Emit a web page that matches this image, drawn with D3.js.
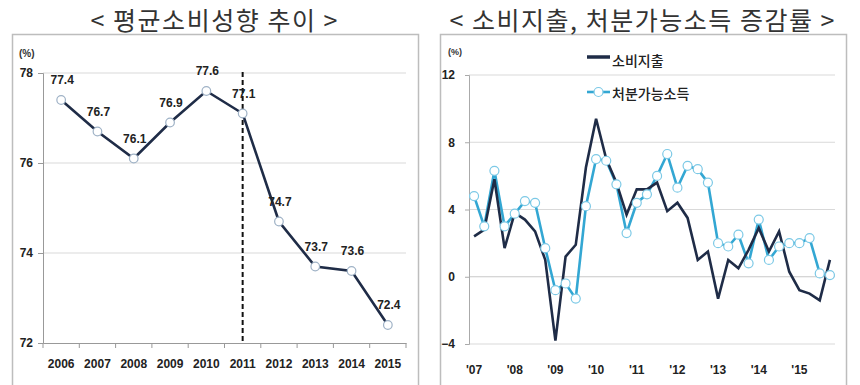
<!DOCTYPE html>
<html><head><meta charset="utf-8">
<script src="https://cdn.jsdelivr.net/npm/d3@7"></script>
<style>
html,body{margin:0;padding:0;background:#fff;}
svg{display:block;}
.kr{font-family:"Noto Sans CJK KR","Noto Sans",sans-serif;}
.num{font-family:"Liberation Sans",Arial,sans-serif;font-weight:bold;}
</style></head>
<body><svg id="c" width="860" height="385"></svg>
<script>
// ---- Left chart data ----
const leftTitle = "< 평균소비성향 추이 >";
const years = ["2006","2007","2008","2009","2010","2011","2012","2013","2014","2015"];
const propensity = [77.4, 76.7, 76.1, 76.9, 77.6, 77.1, 74.7, 73.7, 73.6, 72.4];
const leftTicks = [72, 74, 76, 78];
const markerYear = "2011";

// ---- Right chart data ----
const rightTitle = "< 소비지출, 처분가능소득 증감률 >";
const qYears = ["07","08","09","10","11","12","13","14","15"];
const quarters = ["1","2","3","4"];
const spending = [2.4, 2.8, 5.8, 1.7, 3.8, 3.4, 2.7, 1.0, -3.8, 1.2, 1.9, 6.5,
                  9.4, 7.0, 5.6, 3.7, 5.2, 5.2, 5.6, 3.9, 4.4, 3.5, 1.0, 1.5,
                  -1.3, 1.0, 0.5, 1.6, 2.9, 1.5, 2.7, 0.3, -0.8, -1.0, -1.4, 1.0];
const income = [4.8, 3.0, 6.3, 3.0, 3.75, 4.5, 4.4, 1.7, -0.8, -0.4, -1.3, 4.2,
                7.0, 6.9, 5.5, 2.6, 4.4, 4.9, 6.0, 7.3, 5.3, 6.6, 6.4, 5.6,
                2.0, 1.8, 2.5, 0.8, 3.4, 1.0, 1.8, 2.0, 2.0, 2.3, 0.2, 0.1];
const rightTicks = [-4, 0, 4, 8, 12];
const seriesNames = ["소비지출", "처분가능소득"];

const navy = "#1f2c47", cyan = "#33a7d3", grid = "#d9d9d9";
const svg = d3.select("#c");

// ================= LEFT =================
svg.append("rect").attr("x",12.5).attr("y",34.5).attr("width",406).attr("height",360)
  .attr("fill","none").attr("stroke","#bdbdbd").attr("stroke-width",1.5);
svg.append("text").attr("class","kr").attr("x",214).attr("y",19)
  .attr("text-anchor","middle").attr("dominant-baseline","central")
  .attr("font-size",25).attr("fill","#333").attr("textLength",247)
  .attr("lengthAdjust","spacing").text(leftTitle);

const xL = d3.scaleBand().domain(years).range([43,406]);
const yL = d3.scaleLinear().domain([72,78]).range([343,73]);
const cx = d => xL(d) + xL.bandwidth()/2;

const gL = svg.append("g");
gL.selectAll("line.grid").data(leftTicks.filter(t=>t>72)).join("line")
  .attr("x1",43).attr("x2",406).attr("y1",d=>yL(d)).attr("y2",d=>yL(d))
  .attr("stroke",grid).attr("stroke-width",1);

const axYL = gL.append("g").attr("transform","translate(43,0)")
  .call(d3.axisLeft(yL).tickValues(leftTicks).tickSize(5).tickPadding(5).tickFormat(d3.format("d")));
axYL.select(".domain").attr("stroke","#999");
axYL.selectAll(".tick line").attr("stroke","#999");
axYL.selectAll("text").attr("class","num").attr("font-size",12).attr("fill","#222");

const axXL = gL.append("g").attr("transform","translate(0,343)")
  .call(d3.axisBottom(xL).tickSize(0).tickPadding(16));
axXL.select(".domain").attr("stroke","#999");
axXL.selectAll("text").attr("class","num").attr("font-size",12).attr("fill","#222");
gL.selectAll("line.bt").data(years.concat(["end"])).join("line")
  .attr("x1",(d,i)=> i<years.length ? xL(d) : xL.range()[1])
  .attr("x2",(d,i)=> i<years.length ? xL(d) : xL.range()[1])
  .attr("y1",343).attr("y2",348).attr("stroke","#999");

svg.append("text").attr("class","num").attr("x",19).attr("y",53)
  .attr("dominant-baseline","central").attr("font-size",10).attr("font-weight","normal")
  .attr("fill","#333").text("(%)");

gL.append("line").attr("x1",cx(markerYear)).attr("x2",cx(markerYear))
  .attr("y1",yL(78)-1).attr("y2",343).attr("stroke","#111").attr("stroke-width",2)
  .attr("stroke-dasharray","5,3");

const lineL = d3.line().x((d,i)=>cx(years[i])).y(d=>yL(d));
gL.append("path").datum(propensity).attr("d",lineL).attr("fill","none")
  .attr("stroke",navy).attr("stroke-width",2.6);
gL.selectAll("circle").data(propensity).join("circle")
  .attr("cx",(d,i)=>cx(years[i])).attr("cy",d=>yL(d)).attr("r",4.3)
  .attr("fill","#fff").attr("stroke","#9fb2c6").attr("stroke-width",1.2);
gL.selectAll("text.lbl").data(propensity).join("text").attr("class","num lbl")
  .attr("x",(d,i)=>cx(years[i])+1).attr("y",d=>yL(d)-20)
  .attr("text-anchor","middle").attr("dominant-baseline","central")
  .attr("font-size",12).attr("fill","#222").text(d=>d3.format(".1f")(d));

// ================= RIGHT =================
svg.append("rect").attr("x",440.5).attr("y",34.5).attr("width",406).attr("height",360)
  .attr("fill","none").attr("stroke","#bdbdbd").attr("stroke-width",1.5);
svg.append("text").attr("class","kr").attr("x",642).attr("y",19)
  .attr("text-anchor","middle").attr("dominant-baseline","central")
  .attr("font-size",25).attr("fill","#333").attr("textLength",385)
  .attr("lengthAdjust","spacing").text(rightTitle);

const qCats = [];
qYears.forEach(y => quarters.forEach(q => qCats.push(y + "Q" + q)));
const xR = d3.scaleBand().domain(qCats).range([469,835]);
const yR = d3.scaleLinear().domain([-4,12]).range([344,75]);
const cxR = d => xR(d) + xR.bandwidth()/2;

const gR = svg.append("g");
gR.selectAll("line.grid").data(rightTicks).join("line")
  .attr("x1",469).attr("x2",835).attr("y1",d=>yR(d)).attr("y2",d=>yR(d))
  .attr("stroke",d=> d===0 ? "#c8c8c8" : grid).attr("stroke-width",1);

const axYR = gR.append("g").attr("transform","translate(469,0)")
  .call(d3.axisLeft(yR).tickValues(rightTicks).tickSize(4).tickPadding(10).tickFormat(d3.format("d")));
axYR.select(".domain").attr("stroke","#aaa");
axYR.selectAll(".tick line").attr("stroke","#aaa");
axYR.selectAll("text").attr("class","num").attr("font-size",12).attr("fill","#222");

const axXR = gR.append("g").attr("transform","translate(0,344)")
  .call(d3.axisBottom(xR).tickValues(qCats.filter(d=>d.endsWith("Q1")))
    .tickSize(0).tickPadding(21).tickFormat(d=>"'"+d.slice(0,2)));
axXR.select(".domain").remove();
axXR.selectAll("text").attr("class","num").attr("font-size",12).attr("fill","#222");

svg.append("text").attr("class","num").attr("x",448).attr("y",52)
  .attr("dominant-baseline","central").attr("font-size",9).attr("font-weight","normal")
  .attr("fill","#333").text("(%)");

const lineR = d3.line().x((d,i)=>cxR(qCats[i])).y(d=>yR(d));
gR.append("path").datum(income).attr("d",lineR).attr("fill","none")
  .attr("stroke",cyan).attr("stroke-width",2.6);
gR.append("path").datum(spending).attr("d",lineR).attr("fill","none")
  .attr("stroke",navy).attr("stroke-width",2.6);
gR.selectAll("circle.m").data(income).join("circle").attr("class","m")
  .attr("cx",(d,i)=>cxR(qCats[i])).attr("cy",d=>yR(d)).attr("r",4.5)
  .attr("fill","#fff").attr("stroke","#7cc9e6").attr("stroke-width",1.2);

// legend
const lg = svg.append("g");
lg.append("line").attr("x1",587).attr("x2",610).attr("y1",57).attr("y2",57)
  .attr("stroke",navy).attr("stroke-width",3.5);
lg.append("text").attr("class","kr").attr("x",612).attr("y",60)
  .attr("dominant-baseline","central").attr("font-size",14).attr("font-weight",500)
  .attr("fill","#222").text(seriesNames[0]);
lg.append("line").attr("x1",587).attr("x2",610).attr("y1",92).attr("y2",92)
  .attr("stroke",cyan).attr("stroke-width",2.6);
lg.append("circle").attr("cx",598.5).attr("cy",92).attr("r",4.5)
  .attr("fill","#fff").attr("stroke","#7cc9e6").attr("stroke-width",1.2);
lg.append("text").attr("class","kr").attr("x",612).attr("y",93)
  .attr("dominant-baseline","central").attr("font-size",14).attr("font-weight",500)
  .attr("fill","#222").text(seriesNames[1]);
</script></body></html>
